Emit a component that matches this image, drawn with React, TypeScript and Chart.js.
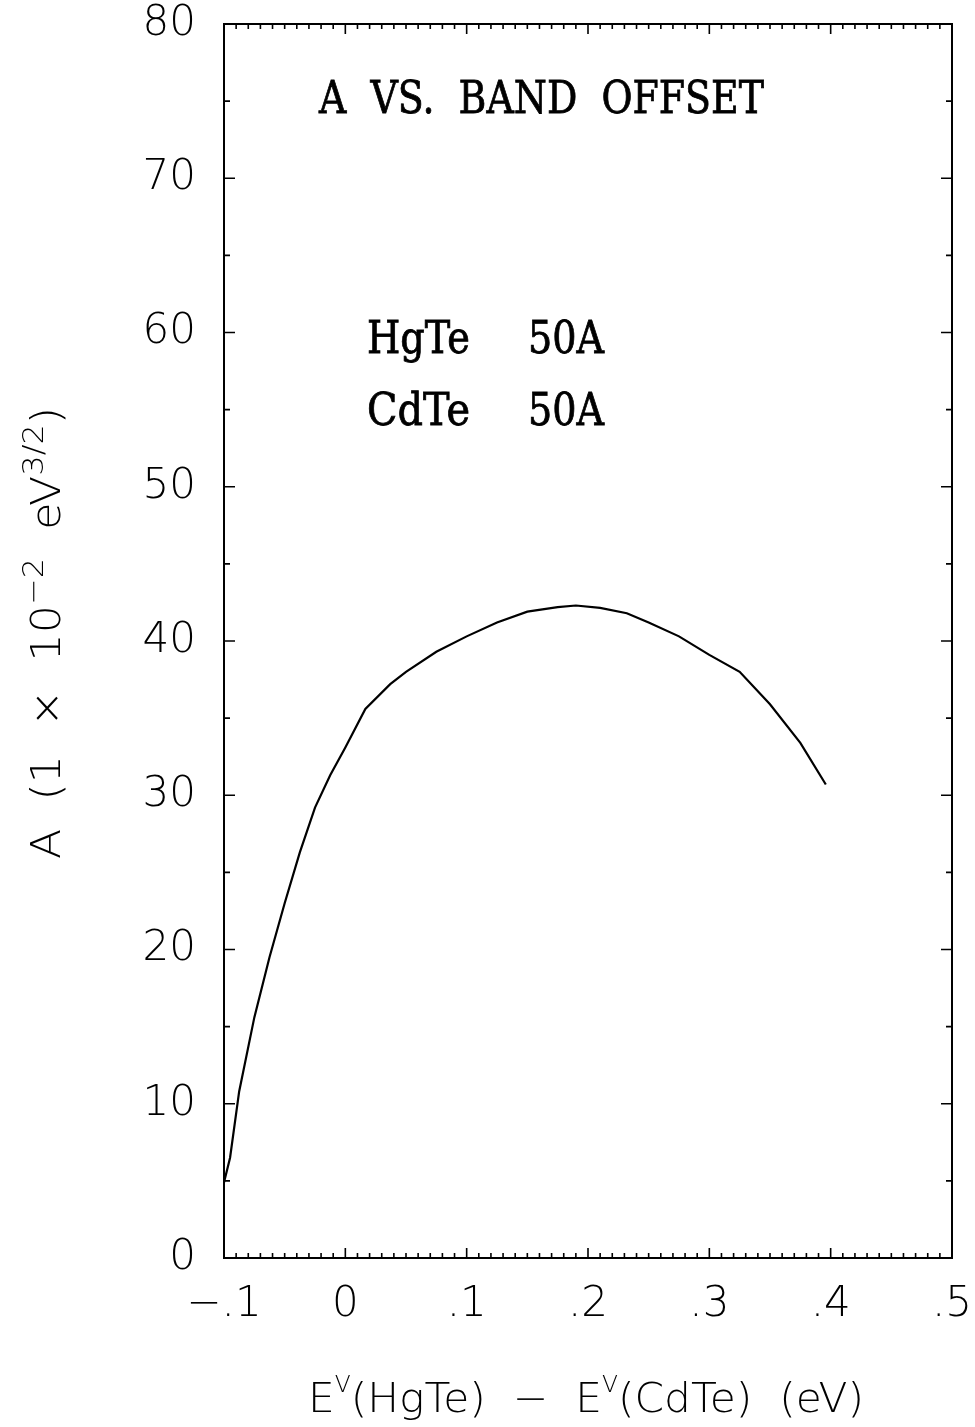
import React, { useEffect, useRef } from "react";
import { Chart, registerables } from "chart.js";

Chart.register(...registerables);

// Band offset E^V(HgTe) - E^V(CdTe) in eV
const offsetEv: number[] = [
  -0.1, -0.095, -0.0875, -0.075, -0.0625, -0.05, -0.0375, -0.025, -0.0125, 0,
  0.0165, 0.037, 0.05, 0.075, 0.1, 0.125, 0.15, 0.175, 0.19, 0.21, 0.232,
  0.25, 0.275, 0.3, 0.325, 0.35, 0.375, 0.396,
];
// A in units of 1e-2 eV^(3/2)
const aValues: number[] = [
  4.9, 6.5, 10.8, 15.6, 19.5, 23.0, 26.3, 29.2, 31.3, 33.1,
  35.6, 37.2, 38.0, 39.3, 40.3, 41.2, 41.9, 42.2, 42.3, 42.15, 41.8,
  41.2, 40.3, 39.1, 38.0, 35.9, 33.4, 30.7,
];

const xMin = -0.1;
const xMax = 0.5;
const xStep = 0.1;
const xMinorStep = 0.01;
const yMin = 0;
const yMax = 80;
const yStep = 10;
const yMinorStep = 5;

const titleText = "A  VS.  BAND  OFFSET";
const sampleLines: [string, string][] = [
  ["HgTe", "50A"],
  ["CdTe", "50A"],
];

const SANS = '"DejaVu Sans", "Liberation Sans", sans-serif';
const SERIF = '"DejaVu Serif", "Liberation Serif", serif';

function fmtX(v: number): string {
  const r = Math.round(v * 10) / 10;
  if (r === 0) return "0";
  let s = r.toFixed(1).replace("0.", ".");
  return s.replace("-", "\u2212");
}

type Seg = { t: string; sup?: boolean; small?: boolean };

function drawSegs(ctx: CanvasRenderingContext2D, segs: Seg[], size: number, cx: number, targetW: number) {
  const fontFor = (s: Seg) =>
    s.sup ? `200 ${size * (s.small ? 0.55 : 0.72)}px ${SANS}` : `200 ${size}px ${SANS}`;
  let w = 0;
  for (const s of segs) {
    ctx.font = fontFor(s);
    w += ctx.measureText(s.t).width;
  }
  const k = targetW / w;
  ctx.save();
  ctx.translate(cx - targetW / 2, 0);
  ctx.scale(k, 1);
  let x = 0;
  for (const s of segs) {
    ctx.font = fontFor(s);
    ctx.fillText(s.t, x, s.sup ? -size * (s.small ? 0.5 : 0.42) : 0);
    x += ctx.measureText(s.t).width;
  }
  ctx.restore();
}

function fitText(ctx: CanvasRenderingContext2D, t: string, x: number, y: number, targetW: number) {
  const w = ctx.measureText(t).width;
  ctx.save();
  ctx.translate(x, y);
  ctx.scale(targetW / w, 1);
  ctx.fillText(t, 0, 0);
  ctx.lineWidth = 0.8;
  ctx.strokeText(t, 0, 0);
  ctx.restore();
}

const decorPlugin = {
  id: "decor",
  afterDraw(chart: any) {
    const ctx: CanvasRenderingContext2D = chart.ctx;
    const xs = chart.scales.x;
    const ys = chart.scales.y;
    const { left, right, top, bottom } = chart.chartArea;
    ctx.save();
    ctx.strokeStyle = "#000";
    ctx.fillStyle = "#000";
    // frame
    ctx.lineWidth = 2;
    ctx.strokeRect(left, top, right - left, bottom - top);
    // x ticks (bottom and top, inward)
    ctx.lineWidth = 1.6;
    const nx = Math.round((xMax - xMin) / xMinorStep);
    for (let i = 0; i <= nx; i++) {
      const v = xMin + i * xMinorStep;
      const px = xs.getPixelForValue(v);
      const major = i % 10 === 0;
      const len = major ? 10 : 5;
      ctx.beginPath();
      ctx.moveTo(px, bottom);
      ctx.lineTo(px, bottom - len);
      ctx.moveTo(px, top);
      ctx.lineTo(px, top + len);
      ctx.stroke();
    }
    const ny = Math.round((yMax - yMin) / yMinorStep);
    for (let i = 0; i <= ny; i++) {
      const v = yMin + i * yMinorStep;
      const py = ys.getPixelForValue(v);
      const major = i % 2 === 0;
      const len = major ? 11 : 6;
      ctx.beginPath();
      ctx.moveTo(left, py);
      ctx.lineTo(left + len, py);
      ctx.moveTo(right, py);
      ctx.lineTo(right - len, py);
      ctx.stroke();
    }
    // title
    ctx.textBaseline = "alphabetic";
    ctx.font = `45px ${SERIF}`;
    fitText(ctx, titleText, 319, 113, 445);
    ctx.font = `44px ${SERIF}`;
    const baselines = [353, 425];
    sampleLines.forEach((ln, i) => {
      fitText(ctx, ln[0], 367, baselines[i], 103);
      fitText(ctx, ln[1], 528, baselines[i], 76);
    });
    // x axis title
    ctx.save();
    ctx.translate(0, 1412);
    drawSegs(
      ctx,
      [
        { t: "E" },
        { t: "V", sup: true, small: true },
        { t: "(HgTe)  \u2212  E" },
        { t: "V", sup: true, small: true },
        { t: "(CdTe)  (eV)" },
      ],
      41,
      586,
      556
    );
    ctx.restore();
    // y axis title
    ctx.save();
    ctx.translate(60, 0);
    ctx.rotate(-Math.PI / 2);
    drawSegs(
      ctx,
      [
        { t: "A  (1  \u00d7  10" },
        { t: "\u22122", sup: true },
        { t: "  eV" },
        { t: "3/2", sup: true },
        { t: ")" },
      ],
      40,
      -633,
      452
    );
    ctx.restore();
    ctx.restore();
  },
};

export default function App() {
  const ref = useRef<HTMLCanvasElement | null>(null);
  useEffect(() => {
    if (!ref.current) return;
    const chart = new Chart(ref.current, {
      type: "line",
      data: {
        datasets: [
          {
            data: offsetEv.map((x, i) => ({ x, y: aValues[i] })),
            borderColor: "#000",
            borderWidth: 2.2,
            pointRadius: 0,
            tension: 0,
            fill: false,
          },
        ],
      },
      options: {
        animation: false,
        responsive: false,
        devicePixelRatio: 1,
        layout: { padding: { top: 24, right: 23, left: 0, bottom: 0 } },
        plugins: { legend: { display: false }, tooltip: { enabled: false } },
        scales: {
          x: {
            type: "linear",
            min: xMin,
            max: xMax,
            grid: { display: false, drawTicks: false },
            border: { display: false },
            ticks: {
              stepSize: xStep,
              color: "#000",
              padding: 22,
              maxRotation: 0,
              font: { family: SANS, size: 42, weight: 200 as any },
              callback: (v: any) => fmtX(Number(v)),
            },
            afterFit: (s: any) => {
              s.height = 1427 - 1258;
              s.paddingLeft = 0;
              s.paddingRight = 0;
            },
          },
          y: {
            type: "linear",
            min: yMin,
            max: yMax,
            grid: { display: false, drawTicks: false },
            border: { display: false },
            ticks: {
              stepSize: yStep,
              color: "#000",
              padding: 28,
              font: { family: SANS, size: 42, weight: 200 as any },
            },
            afterFit: (s: any) => {
              s.width = 224;
              s.paddingTop = 0;
              s.paddingBottom = 0;
            },
          },
        },
      },
      plugins: [decorPlugin],
    });
    return () => chart.destroy();
  }, []);
  return (
    <div style={{ position: "absolute", left: 0, top: 0, width: 975, height: 1427, background: "#fff" }}>
      <canvas ref={ref} width={975} height={1427} style={{ display: "block" }} />
    </div>
  );
}
